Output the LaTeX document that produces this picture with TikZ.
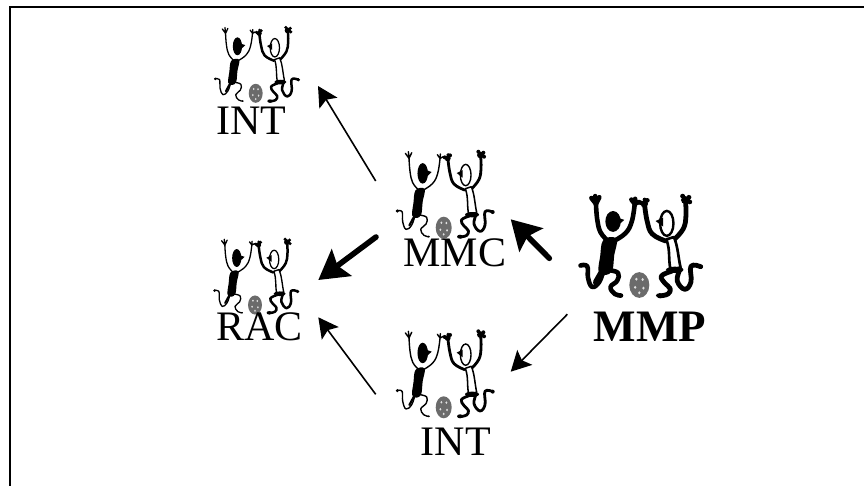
\documentclass[tikz,border=0pt]{standalone}
\usepackage{fontspec}
\setmainfont{Liberation Serif}
\usetikzlibrary{arrows.meta}
\tikzset{
  lefthalf/.style={line width=\lwL pt,line cap=round,line join=round},
  righthalf/.style={line width=\lwR pt,line cap=round,line join=round},
  lightarrow/.style={line width=1.6pt,-{Stealth[length=20pt,width=21pt,inset=4pt]}},
  heavyarrow/.style={line width=5.6pt,line cap=round,-{Stealth[length=29pt,width=33pt,inset=5pt]}},
  frameline/.style={line width=2pt},
  rolelabel/.style={anchor=base,inner sep=0pt,font=\fontsize{42}{48}\selectfont},
}
% Two dancers around a ball; args: ball x, ball y, x scale, y scale, left and right limb widths
\newcommand{\dancers}[6]{%
\begin{scope}[shift={(#1,#2)},x={#3*0.3333pt},y={-#4*0.3333pt},shift={(-431,-263)}]
  \def\lwL{#5}\def\lwR{#6}
  % left dancer
  \fill[black,draw=black,line width=#5*0.8pt] (368,100) ellipse [x radius=14,y radius={32-#5*2.2}];
  \fill[black] (378,90) -- (395,96) -- (378,112) -- cycle;
  \fill[black,draw=black,line width=#5*0.9pt,line join=round]
     plot[smooth cycle,tension=.6] coordinates {(348,152) (372,148) (366,185) (362,222) (350,232) (338,225) (342,190)};
  \draw[lefthalf] plot[smooth,tension=.7] coordinates {(356,150) (338,128) (330,95) (327,55)};
  \draw[lefthalf] plot[smooth,tension=.7] coordinates {(370,150) (398,130) (413,100) (420,55)};
  \draw[lefthalf] (327,55) -- (316,40) (327,55) -- (325,35) (327,55) -- (335,38);
  \draw[lefthalf] (420,55) -- (412,44) (420,55) -- (421,42) (420,55) -- (430,50);
  \draw[line width=#5*1.5pt,line cap=round] (343,228) -- (328,256);
  \draw[lefthalf] plot[smooth,tension=.7] coordinates {(345,225) (335,255) (318,268) (308,245) (306,215) (290,213)};
  \draw[lefthalf] plot[smooth,tension=.7] coordinates {(358,225) (380,232) (378,252) (362,268) (372,286) (387,290)};
  \fill (292,213) circle[radius=5] (386,290) circle[radius=3];
  % right dancer
  \draw[line width=#6*0.5pt] (497,105) ellipse [x radius=16,y radius=32];
  \fill[black] (488,90) -- (470,99) -- (488,113) -- cycle;
  \draw[righthalf] plot[smooth,tension=.7] coordinates {(494,150) (462,132) (450,100) (444,60)};
  \draw[righthalf] plot[smooth,tension=.7] coordinates {(516,145) (537,118) (543,85) (542,50)};
  \fill (443,55) circle[radius=9] (434,52) circle[radius=6] (450,46) circle[radius=6] (444,44) circle[radius=5];
  \fill (541,45) circle[radius=10] (535,35) circle[radius=6] (550,38) circle[radius=6] (552,50) circle[radius=6];
  \draw[line width=#6*0.55pt,line join=round,fill=white]
     (496,146) .. controls (506,175) and (500,195) .. (506,224)
     -- (530,218) .. controls (524,190) and (524,165) .. (514,140) -- cycle;
  \fill (516,224) ellipse [x radius=21,y radius=8];
  \draw[righthalf] plot[smooth,tension=.7] coordinates {(508,228) (484,240) (492,258) (505,272) (500,286) (480,291)};
  \fill (480,290) ellipse [x radius=9,y radius=6];
  \draw[righthalf] plot[smooth,tension=.7] coordinates {(529,222) (522,252) (540,274) (555,255) (555,215) (578,216)};
  \fill (578,216) circle[radius=6];
  % ball
  \fill[black!58] (431,263) ellipse [x radius=24,y radius=33];
  \foreach \dx/\dy in {-7/-15,8/-14,-10/6,10/8,0/20}
    \fill[black!12] (431+\dx,263+\dy) ellipse [x radius=3,y radius=4];
\end{scope}}
\begin{document}
\begin{tikzpicture}[x=1pt,y=-1pt]
  \useasboundingbox (0,0) rectangle (864,486);
  \fill[white] (0,0) rectangle (864,486);
  \coordinate (frameNE) at (864,7.5);
  \coordinate (frameNW) at (10,7.5);
  \coordinate (frameSW) at (10,486);
  \draw[frameline] (frameNE) -- (frameNW) -- (frameSW);

  \dancers{255.7}{93.3}{0.87}{0.865}{1.3}{2.5}
  \dancers{255}{305}{0.87}{0.865}{1.3}{2.5}
  \dancers{443.7}{227.7}{1}{1}{1.4}{2.8}
  \dancers{443.7}{407.3}{1}{1}{1.4}{2.8}
  \dancers{639.3}{285}{1.25}{1.17}{4.6}{4.8}

  \node[rolelabel] (intTop) at (251,135) {INT};
  \node[rolelabel] (rac) at (259.5,340) {RAC};
  \node[rolelabel] (mmc) at (455,266) {MMC};
  \node[rolelabel] (intLow) at (455.7,455) {INT};
  \node[rolelabel,font=\fontsize{45}{50}\selectfont\bfseries] (mmp) at (650,341.7) {MMP};

  % arrow end points beside each group
  \coordinate (mmcToInt) at (375.7,181);
  \coordinate (intTopIn) at (318,86);
  \coordinate (mmcToRac) at (376,237);
  \coordinate (racFromMmc) at (318.3,280);
  \coordinate (mmpToMmc) at (549.3,258.3);
  \coordinate (mmcFromMmp) at (510.7,219.3);
  \coordinate (intToRac) at (375.7,394.3);
  \coordinate (racFromInt) at (318.3,317.3);
  \coordinate (mmpToInt) at (567.3,314.3);
  \coordinate (intFromMmp) at (510.7,371.7);

  \draw[lightarrow] (mmcToInt) -- (intTopIn);
  \draw[heavyarrow] (mmcToRac) -- (racFromMmc);
  \draw[heavyarrow] (mmpToMmc) -- (mmcFromMmp);
  \draw[lightarrow] (intToRac) -- (racFromInt);
  \draw[lightarrow] (mmpToInt) -- (intFromMmp);
\end{tikzpicture}
\end{document}
